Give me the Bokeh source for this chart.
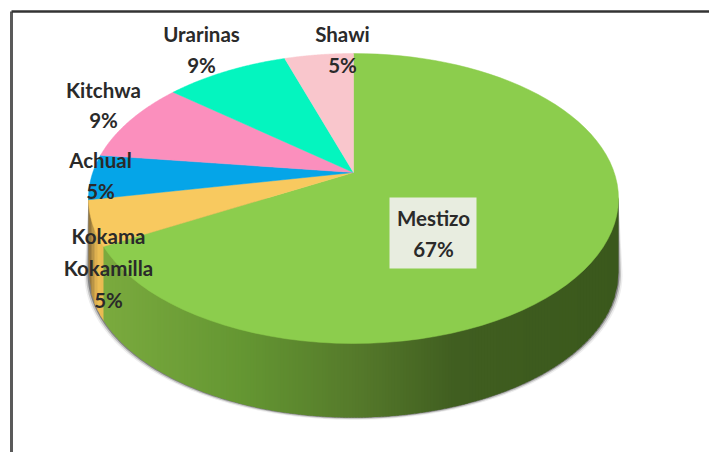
import numpy as np
from bokeh.plotting import figure
from bokeh.models import Range1d
from bokeh.core.properties import value
from bokeh.embed import file_html
from bokeh.resources import INLINE

# Data, clockwise from 12 o'clock
groups = ["Mestizo", "Kokama Kokamilla", "Achual", "Kitchwa", "Urarinas", "Shawi"]
shares = [67, 5, 5, 9, 9, 5]
colors = ["#8ccd4d", "#f8c95f", "#05a5e8", "#fb8fbd", "#04f5bf", "#f9c6cc"]

# Projected disc (picture pixels)
CX, CY, RX, RY = 353.0, 198.0, 265.0, 145.0
APEX = 26.0 / 145.0   # centre of the disc seen in perspective
DEPTH = 74.0

def rim(phi):
    u, v = np.sin(phi), np.cos(phi)
    d = 1 + APEX * v
    x = u * np.sqrt(1 - APEX ** 2) / d
    y = (v + APEX) / d
    return CX + RX * x, CY - RY * y

def lerp_color(stops, t):
    xs = [s[0] for s in stops]
    rgb = [np.interp(t, xs, [s[1][i] for s in stops]) for i in range(3)]
    return "#%02x%02x%02x" % tuple(int(round(c)) for c in rgb)

W, H = 709, 452
p = figure(width=W, height=H, output_backend="svg", toolbar_location=None,
           x_range=Range1d(0, W), y_range=Range1d(H, 0), min_border=0)
p.axis.visible = False
p.grid.visible = False
p.outline_line_color = None
p.background_fill_color = "white"

# chart frame
p.line([11, 11], [H, 11], line_color="#5a5a5a", line_width=3)
p.line([11, W], [11, 11], line_color="#333333", line_width=2.5)

cum = np.cumsum([0] + shares) / sum(shares) * 2 * np.pi
apex_x, apex_y = CX, CY - RY * APEX

# soft shadow of the wall
arc = np.linspace(np.pi / 2 - 0.02, 3 * np.pi / 2, 200)
ax, ay = CX + RX * np.sin(arc), CY - RY * np.cos(arc)
for grow, col in [(4, "#eeeeee"), (2.5, "#c4c4c4"), (1, "#808080")]:
    p.patch(list(ax + grow * np.sin(arc)) + [ax[-1], ax[0]],
            list(ay + DEPTH + grow * 0.6) + [CY, CY], fill_color=col, line_color=None)

# wall, as narrow vertical strips with a horizontal gradient
wall_stops = [(0.0, (122, 170, 62)), (0.27, (100, 150, 50)), (0.5, (84, 120, 42)),
              (0.68, (64, 94, 32)), (1.0, (58, 88, 28))]
yellow_stops = [(0.0, (150, 120, 60)), (0.5, (238, 190, 85)), (1.0, (230, 185, 80))]
m_end = rim(cum[1])
xs = np.arange(CX - RX, CX + RX, 3.0)
for x0 in xs:
    x1 = min(x0 + 3.0, CX + RX)
    e0 = np.sqrt(max(0, 1 - ((x0 - CX) / RX) ** 2))
    if x0 < m_end[0]:
        col = lerp_color(yellow_stops, (x0 - (CX - RX)) / (m_end[0] - (CX - RX)))
    else:
        col = lerp_color(wall_stops, (x0 - m_end[0]) / (CX + RX - m_end[0]))
    x2 = min(x1 + 1.0, CX + RX)
    e2 = np.sqrt(max(0, 1 - ((x2 - CX) / RX) ** 2))
    p.patch([x0, x2, x2, x0], [CY + RY * e0 - 2, CY + RY * e2 - 2, CY + RY * e2 + DEPTH, CY + RY * e0 + DEPTH],
            fill_color=col, line_color=None)

# top face
for i, c in enumerate(colors):
    phi = np.linspace(cum[i], cum[i + 1], 80)
    rx_, ry_ = rim(phi)
    p.patch([apex_x] + list(rx_), [apex_y] + list(ry_), fill_color=c, line_color=c, line_width=0.5)

# labels
p.quad(left=389, right=476, top=197, bottom=268, fill_color="#e8ede0", line_color=None)
names = [["Urarinas", "9%"], ["Shawi", "5%"], ["Kitchwa", "9%"], ["Achual", "5%"],
         ["Kokama", "Kokamilla", "5%"], ["Mestizo", "67%"]]
anchors = [(201, 33), (342, 33), (103, 89), (100, 159), (108, 235), (433, 217)]
lh = [31, 31, 30, 31, 32, 31]
tx, ty, tt = [], [], []
for lines, (ax0, ay0), h in zip(names, anchors, lh):
    for j, t in enumerate(lines):
        tx.append(ax0); ty.append(ay0 + j * h); tt.append(t)
p.text(x=tx, y=ty, text=tt, text_align="center", text_baseline="middle",
       text_font=value("Lato"), text_font_style="bold", text_font_size="20.5px", text_color="#2a2a2a")

open("out.html", "w").write(file_html(p, INLINE))
